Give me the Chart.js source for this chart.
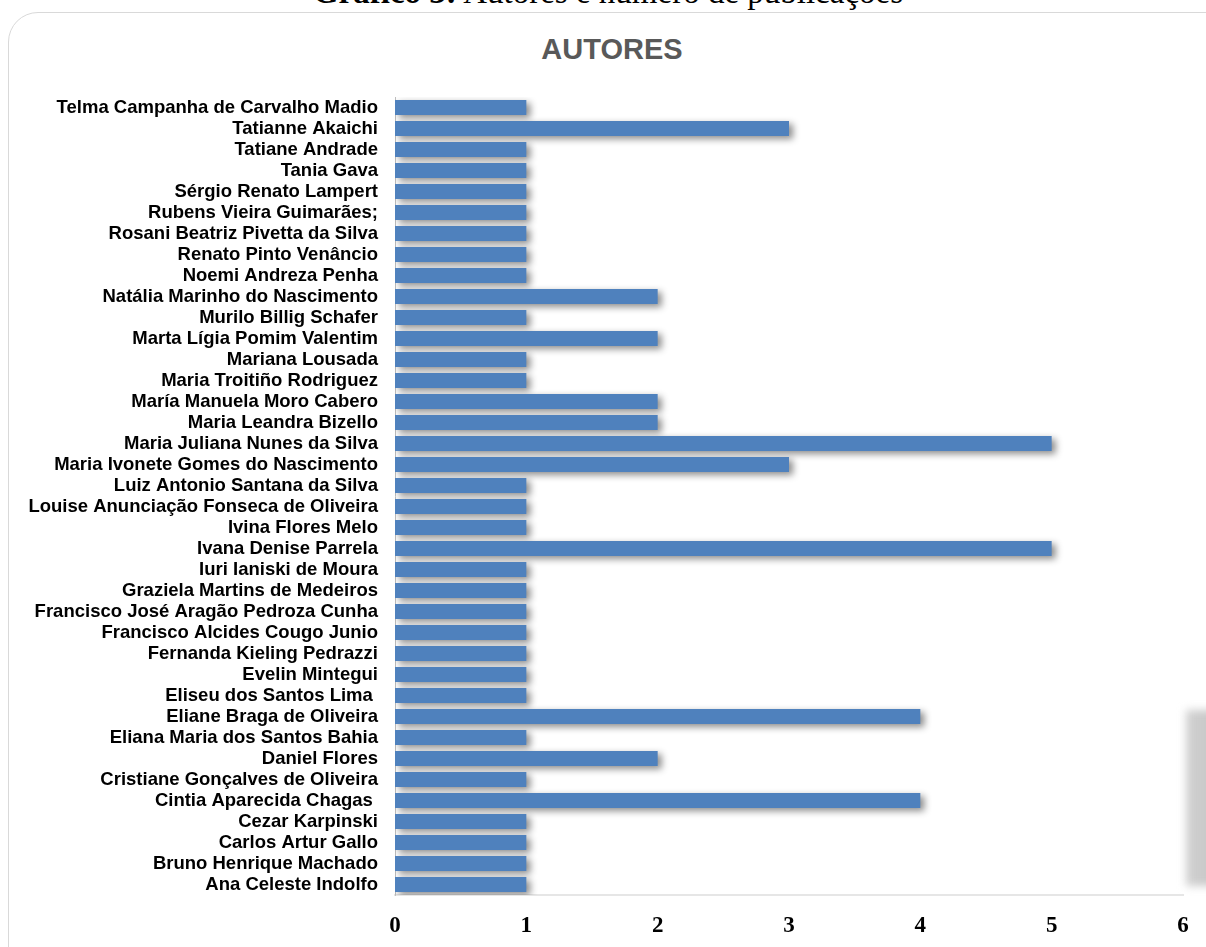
<!DOCTYPE html>
<html>
<head>
<meta charset="utf-8">
<script src="https://cdn.jsdelivr.net/npm/chart.js@4/dist/chart.umd.min.js"></script>
<style>
  html, body { margin: 0; padding: 0; background: #fff; overflow: hidden; }
  #pagina { position: relative; width: 1206px; height: 947px; overflow: hidden; }
  #legenda {
    position: absolute; left: 0; width: 1216px; top: -24px;
    text-align: center; font: 33px/33px "Liberation Serif", serif; color: #000; white-space: nowrap;
  }
  #titulo {
    position: absolute; left: 0; width: 1224px; top: 32px;
    text-align: center; font: bold 29px/35px "Liberation Sans", sans-serif; color: #595959;
  }
  #moldura {
    position: absolute; left: 8px; top: 12px; width: 1240px; height: 980px;
    border: 1.5px solid #d9d9d9; border-radius: 30px; box-sizing: border-box;
  }
  #sombra {
    position: absolute; left: 1186px; top: 710px; width: 40px; height: 176px;
    background: linear-gradient(to right, #d0d0d0, #c4c4c4); filter: blur(4px);
  }
  #grafica { position: absolute; left: 0; top: 0; }
</style>
</head>
<body>
<div id="pagina">
  <div id="legenda"><b>Gráfico 3:</b> Autores e número de publicações</div>
  <div id="moldura"></div>
  <div id="sombra"></div>
  <div id="titulo">AUTORES</div>
  <canvas id="grafica" width="1206" height="947"></canvas>
</div>
<script>
const autores = [
  "Telma Campanha de Carvalho Madio",
  "Tatianne Akaichi",
  "Tatiane Andrade",
  "Tania Gava",
  "Sérgio Renato Lampert",
  "Rubens Vieira Guimarães;",
  "Rosani Beatriz Pivetta da Silva",
  "Renato Pinto Venâncio",
  "Noemi Andreza Penha",
  "Natália Marinho do Nascimento",
  "Murilo Billig Schafer",
  "Marta Lígia Pomim Valentim",
  "Mariana Lousada",
  "Maria Troitiño Rodriguez",
  "María Manuela Moro Cabero",
  "Maria Leandra Bizello",
  "Maria Juliana Nunes da Silva",
  "Maria Ivonete Gomes do Nascimento",
  "Luiz Antonio Santana da Silva",
  "Louise Anunciação Fonseca de Oliveira",
  "Ivina Flores Melo",
  "Ivana Denise Parrela",
  "Iuri Ianiski de Moura",
  "Graziela Martins de Medeiros",
  "Francisco José Aragão Pedroza Cunha",
  "Francisco Alcides Cougo Junio",
  "Fernanda Kieling Pedrazzi",
  "Evelin Mintegui",
  "Eliseu dos Santos Lima ",
  "Eliane Braga de Oliveira",
  "Eliana Maria dos Santos Bahia",
  "Daniel Flores",
  "Cristiane Gonçalves de Oliveira",
  "Cintia Aparecida Chagas ",
  "Cezar Karpinski",
  "Carlos Artur Gallo",
  "Bruno Henrique Machado",
  "Ana Celeste Indolfo"
]

const publicacoes = [1, 3, 1, 1, 1, 1, 1, 1, 1, 2, 1, 2, 1, 1, 2, 2, 5, 3, 1, 1,
                     1, 5, 1, 1, 1, 1, 1, 1, 1, 4, 1, 2, 1, 4, 1, 1, 1, 1]

const ticksX = [0, 1, 2, 3, 4, 5, 6]

const ctx = document.getElementById('grafica').getContext('2d')

// sombra das barras, como no Excel
const sombraBarras = {
  id: 'sombraBarras',
  beforeDatasetDraw(chart) {
    const c = chart.ctx
    c.save()
    c.shadowColor = 'rgba(0,0,0,0.45)'
    c.shadowBlur = 7
    c.shadowOffsetX = 4
    c.shadowOffsetY = 3
  },
  afterDatasetDraw(chart) {
    chart.ctx.restore()
  }
}

new Chart(ctx, {
  type: 'bar',
  data: {
    labels: autores,
    datasets: [{
      label: 'Publicações',
      data: publicacoes,
      backgroundColor: '#4F81BD',
      barPercentage: 0.72,
      categoryPercentage: 1
    }]
  },
  options: {
    indexAxis: 'y',
    responsive: false,
    animation: false,
    // o título AUTORES fica no html (centrado como no original), aqui só o espaço
    layout: { padding: { top: 97, right: 23, bottom: 0, left: 0 } },
    plugins: {
      legend: { display: false },
      tooltip: { enabled: false }
    },
    scales: {
      x: {
        min: ticksX[0],
        max: ticksX[ticksX.length - 1],
        afterFit: (scale) => { scale.height = 52 },
        grid: { display: false, drawTicks: false },
        border: { display: true, color: '#e6e6e6', width: 2 },
        ticks: {
          stepSize: 1,
          padding: 17,
          color: '#000',
          font: { family: 'Liberation Serif', size: 23, weight: 'bold' }
        }
      },
      y: {
        afterFit: (scale) => { scale.width = 395 },
        grid: { display: false, drawTicks: false },
        border: { display: true, color: '#bfbfbf', width: 1 },
        ticks: {
          autoSkip: false,
          padding: 17,
          color: '#000',
          font: { family: 'Liberation Sans', size: 18.5, weight: 'bold' }
        }
      }
    }
  },
  plugins: [sombraBarras]
})
</script>
</body>
</html>
